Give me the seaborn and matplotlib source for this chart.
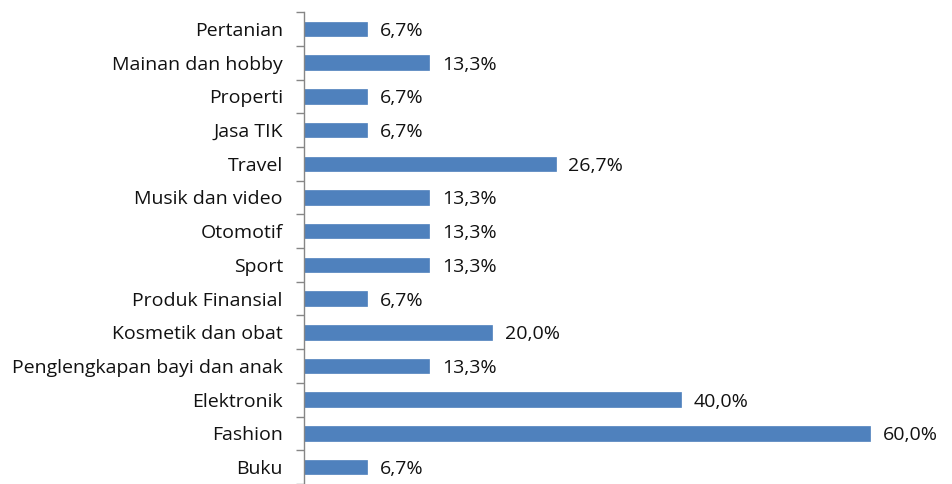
import numpy as np
import pandas as pd
import seaborn as sns
import matplotlib.pyplot as plt

categories = ['Pertanian', 'Mainan dan hobby', 'Properti', 'Jasa TIK', 'Travel',
              'Musik dan video', 'Otomotif', 'Sport', 'Produk Finansial',
              'Kosmetik dan obat', 'Penglengkapan bayi dan anak', 'Elektronik',
              'Fashion', 'Buku']
values = [6.7, 13.3, 6.7, 6.7, 26.7, 13.3, 13.3, 13.3, 6.7, 20.0, 13.3, 40.0, 60.0, 6.7]

df = pd.DataFrame({'kategori': categories, 'persen': values})

sns.set_style('white')
plt.rcParams['font.family'] = ['Open Sans', 'DejaVu Sans']

fig = plt.figure(figsize=(9.52, 4.84), dpi=100)
ax = fig.add_axes([0.319, 0.0, 0.671, 0.975])

sns.barplot(data=df, x='persen', y='kategori', color='#4F81BD', saturation=1,
            width=0.43, ax=ax, orient='h', edgecolor='#4F81BD', linewidth=0.5)

for i, v in enumerate(values):
    ax.text(v + 1.35, i, f'{v:.1f}%'.replace('.', ','), va='center_baseline',
            ha='left', fontsize=14, color='#111111')

ax.set_xlim(0, 67.7)
ax.set_ylim(len(categories) - 0.5, -0.5)
ax.set_xlabel('')
ax.set_ylabel('')
ax.set_xticks([])
ax.tick_params(axis='y', which='major', left=True, length=0, pad=15,
               labelsize=14, labelcolor='#111111')
ax.set_yticks(np.arange(-0.5, len(categories), 1), minor=True)
ax.tick_params(axis='y', which='minor', left=True, length=6, width=1,
               color='#868686', direction='out')
for s in ['top', 'right', 'bottom']:
    ax.spines[s].set_visible(False)
ax.spines['left'].set_color('#868686')
ax.spines['left'].set_linewidth(1)

fig.savefig('out.png', dpi=100)
